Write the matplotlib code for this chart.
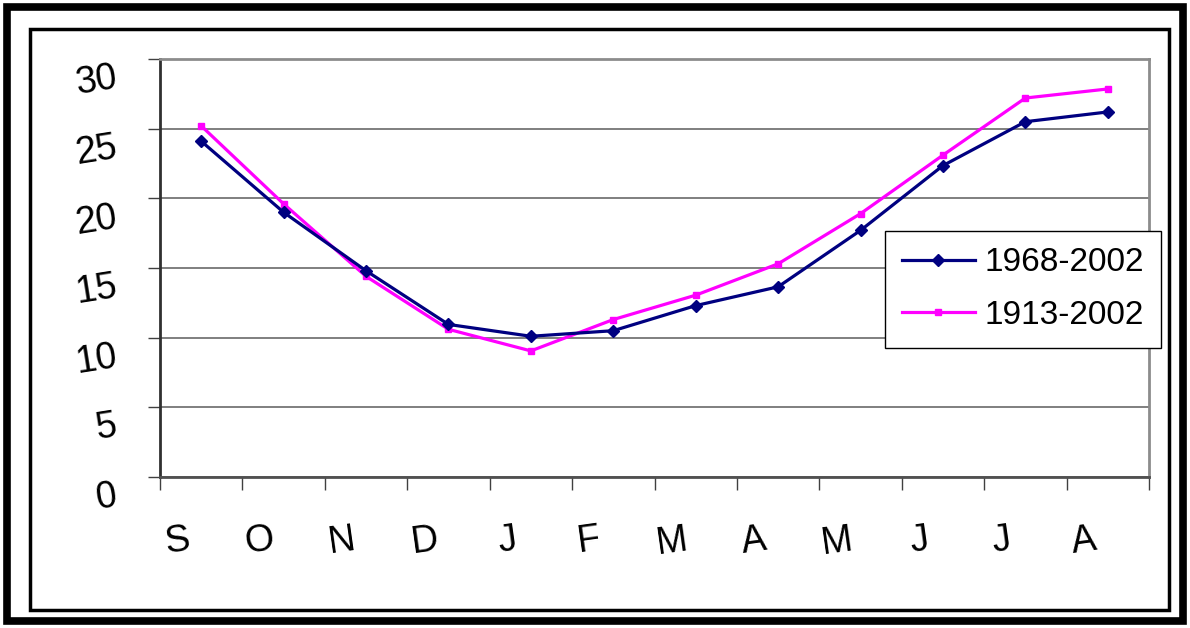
import matplotlib.pyplot as plt
import matplotlib.transforms as mtransforms
from matplotlib.patches import Rectangle

months = ['S', 'O', 'N', 'D', 'J', 'F', 'M', 'A', 'M', 'J', 'J', 'A']
avg_1968_2002 = [24.1, 19.0, 14.8, 10.95, 10.1, 10.5, 12.3, 13.65, 17.7, 22.35, 25.5, 26.2]
avg_1913_2002 = [25.2, 19.6, 14.4, 10.6, 9.05, 11.3, 13.05, 15.3, 18.9, 23.1, 27.2, 27.85]
y_ticks = [0, 5, 10, 15, 20, 25, 30]

plt.rcParams['font.family'] = ['Liberation Sans', 'DejaVu Sans']

fig = plt.figure(figsize=(11.9, 6.28), dpi=100)
W, H = 1190, 628

# double border around the whole chart
fig.patches.append(Rectangle((7 / W, 7 / H), 1 - 14 / W, 1 - 14 / H, transform=fig.transFigure,
                             fill=False, edgecolor='black', linewidth=5.5))
fig.patches.append(Rectangle((30 / W, 18 / H), 1139 / W, 581 / H, transform=fig.transFigure,
                             fill=False, edgecolor='black', linewidth=2.5))

ax = fig.add_axes([160 / W, (H - 477) / H, 989 / W, 418 / H])

x = [i + 0.5 for i in range(len(months))]
ax.plot(x, avg_1968_2002, color='#000080', linewidth=2.3, marker='D', markersize=6,
        label='1968-2002', zorder=4)
ax.plot(x, avg_1913_2002, color='#FF00FF', linewidth=2.3, marker='s', markersize=5,
        label='1913-2002', zorder=3)

ax.set_xlim(0, 12)
ax.set_ylim(0, 30)

ax.set_yticks(y_ticks)
ax.set_yticklabels([str(v) for v in y_ticks], fontsize=27, rotation=9)
ax.tick_params(axis='y', length=9, width=1, color='#404040', pad=20)
ax.yaxis.grid(True, color='#7f7f7f', linewidth=1.4)
ax.set_axisbelow(True)

ax.set_xticks(range(13))
ax.set_xticklabels([])
ax.set_xticks(x, minor=True)
ax.set_xticklabels(months, minor=True, fontsize=27, rotation=8)
ax.tick_params(axis='x', which='major', length=9, width=1, color='#404040')
ax.tick_params(axis='x', which='minor', length=0, pad=32)

# labels sit a little off their ticks
dy = mtransforms.ScaledTranslation(0, -15 / 100, fig.dpi_scale_trans)
for lbl in ax.get_yticklabels():
    lbl.set_transform(lbl.get_transform() + dy)
dx = mtransforms.ScaledTranslation(-24 / 100, 0, fig.dpi_scale_trans)
for lbl in ax.get_xticklabels(minor=True):
    lbl.set_transform(lbl.get_transform() + dx)

for side in ['top', 'right']:
    ax.spines[side].set_color('#8c8c8c')
    ax.spines[side].set_linewidth(2)
ax.spines['left'].set_color('#303030')
ax.spines['left'].set_linewidth(2)
ax.spines['bottom'].set_color('#505050')
ax.spines['bottom'].set_linewidth(2)

leg = ax.legend(loc='upper left', bbox_to_anchor=(0.733, 0.589), fontsize=24,
                frameon=True, fancybox=False, framealpha=1, edgecolor='black',
                handlelength=2.2, handletextpad=0.3, labelspacing=0.65,
                borderpad=0.5, borderaxespad=0)
leg.get_frame().set_linewidth(1)
leg.set_zorder(5)

fig.savefig('out.png', dpi=100, facecolor='white')
